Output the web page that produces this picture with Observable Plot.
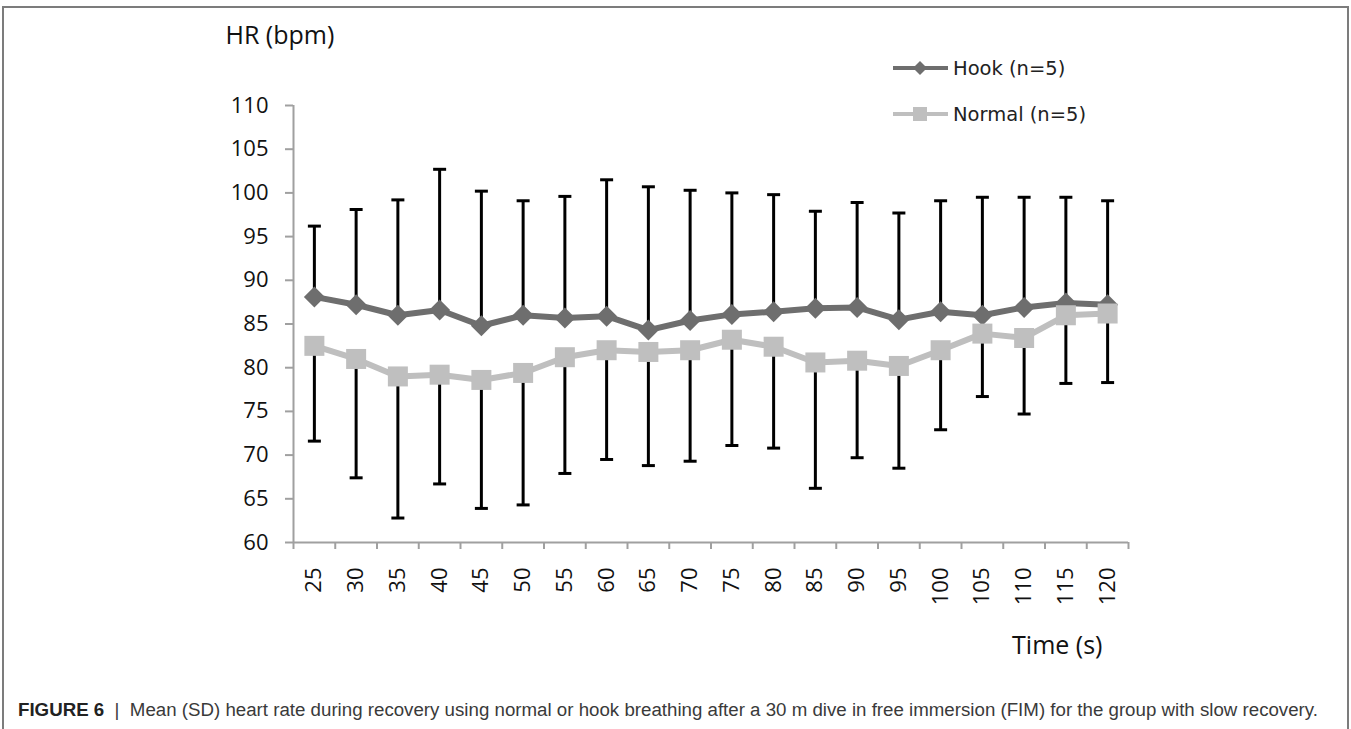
<!DOCTYPE html>
<html><head><meta charset="utf-8">
<script src="https://cdn.jsdelivr.net/npm/d3@7"></script>
<script src="https://cdn.jsdelivr.net/npm/@observablehq/plot@0.6"></script>
<style>
html,body{margin:0;padding:0;background:#fff;width:1351px;height:729px;overflow:hidden;}
#wrap{position:relative;width:1351px;height:729px;}
#border{position:absolute;left:2px;top:6px;width:1347px;height:800px;border:2px solid #7c7c7c;box-sizing:border-box;}
#chart{position:absolute;left:0;top:0;}
#legend{position:absolute;left:0;top:0;}
#caption{position:absolute;left:18px;top:700px;font-family:"Liberation Sans",Arial,sans-serif;font-size:18px;color:#3a3a3a;white-space:nowrap;transform-origin:0 0;}
#caption b{color:#222;}
</style></head><body>
<div id="wrap">
  <div id="border"></div>
  <div id="chart"></div>
  <svg id="legend" width="1351" height="160"></svg>
  <div id="caption"><b>FIGURE 6</b> &nbsp;|&nbsp; Mean (SD) heart rate during recovery using normal or hook breathing after a 30 m dive in free immersion (FIM) for the group with slow recovery.</div>
</div>
<script>
const times = [25,30,35,40,45,50,55,60,65,70,75,80,85,90,95,100,105,110,115,120];
const hookMean = [88.1,87.2,86.0,86.6,84.8,86.0,85.7,85.9,84.3,85.4,86.1,86.4,86.8,86.9,85.5,86.4,86.0,86.9,87.4,87.2];
const hookSD   = [8.1,10.9,13.2,16.1,15.4,13.1,13.9,15.6,16.4,14.9,13.9,13.4,11.1,12.0,12.2,12.7,13.5,12.6,12.1,11.9];
const normalMean = [82.5,81.0,79.0,79.2,78.6,79.4,81.2,82.0,81.8,82.0,83.2,82.4,80.6,80.8,80.2,82.0,83.9,83.4,86.0,86.2];
const normalSD   = [10.9,13.6,16.2,12.5,14.7,15.1,13.3,12.5,13.0,12.7,12.1,11.6,14.4,11.1,11.7,9.1,7.2,8.7,7.8,7.9];
const yTicks = [60,65,70,75,80,85,90,95,100,105,110];
const seriesNames = ["Hook (n=5)", "Normal (n=5)"];
const yTitle = "HR (bpm)";
const xTitle = "Time (s)";

const hookColor = "#6e6e6e", normalColor = "#bfbfbf", axisColor = "#a0a0a0", textColor = "#111";

const hook = times.map((t,i)=>({time:t, mean:hookMean[i], sd:hookSD[i]}));
const normal = times.map((t,i)=>({time:t, mean:normalMean[i], sd:normalSD[i]}));
const bounds = [...times.map(t=>t-2.5), times[times.length-1]+2.5];

function sym(fn){ return {draw(ctx,size){ const r=Math.sqrt(size/Math.PI); fn(ctx,r); }}; }
const diamond = sym((c,r)=>{c.moveTo(0,-r);c.lineTo(r,0);c.lineTo(0,r);c.lineTo(-r,0);c.closePath();});
const square = sym((c,r)=>{c.moveTo(-r,-r);c.lineTo(r,-r);c.lineTo(r,r);c.lineTo(-r,r);c.closePath();});
const hbar = sym((c,r)=>{c.moveTo(-r,0);c.lineTo(r,0);});

const chart = Plot.plot({
  width:1351, height:680,
  marginLeft:293, marginRight:223, marginTop:105, marginBottom:138,
  style:{fontFamily:"'Open Sans', sans-serif", background:"transparent", overflow:"visible"},
  x:{type:"linear", domain:[bounds[0], bounds[bounds.length-1]], label:null, axis:null},
  y:{domain:[60,110], label:null, axis:null},
  marks:[
    Plot.axisY({ticks:yTicks, tickSize:8, tickPadding:17, fontSize:22, stroke:axisColor, strokeWidth:2, fill:textColor, label:null}),
    Plot.axisX({ticks:bounds, tickSize:7, tickFormat:()=>"", stroke:axisColor, strokeWidth:2, label:null}),
    Plot.axisX({ticks:times, tickSize:0, tickPadding:25, tickRotate:-90, fontSize:22, fill:textColor, label:null}),
    Plot.ruleY([60], {stroke:axisColor, strokeWidth:2}),
    Plot.ruleX([bounds[0]], {stroke:axisColor, strokeWidth:2}),
    Plot.ruleX(hook, {x:"time", y1:"mean", y2:d=>d.mean+d.sd, stroke:"#000", strokeWidth:3}),
    Plot.dot(hook, {x:"time", y:d=>d.mean+d.sd, symbol:hbar, r:6.5, stroke:"#000", strokeWidth:3, fill:"none"}),
    Plot.ruleX(normal, {x:"time", y1:"mean", y2:d=>d.mean-d.sd, stroke:"#000", strokeWidth:3}),
    Plot.dot(normal, {x:"time", y:d=>d.mean-d.sd, symbol:hbar, r:6.5, stroke:"#000", strokeWidth:3, fill:"none"}),
    Plot.line(hook, {x:"time", y:"mean", stroke:hookColor, strokeWidth:6}),
    Plot.dot(hook, {x:"time", y:"mean", symbol:diamond, r:10.5, fill:hookColor, stroke:"none"}),
    Plot.line(normal, {x:"time", y:"mean", stroke:normalColor, strokeWidth:6}),
    Plot.dot(normal, {x:"time", y:"mean", symbol:square, r:10, fill:normalColor, stroke:"none"}),
    Plot.text([yTitle], {text:d=>d, frameAnchor:"top-left", textAnchor:"start", lineAnchor:"bottom", dx:-68, dy:-62, fontSize:25, fill:textColor}),
    Plot.text([xTitle], {text:d=>d, frameAnchor:"bottom-right", textAnchor:"end", lineAnchor:"bottom", dx:-26, dy:111, fontSize:25, fill:textColor})
  ]
});
document.getElementById("chart").appendChild(chart);

// legend
const leg = d3.select("#legend");
const legItems = [
  {name:seriesNames[0], color:hookColor, shape:diamond, y:68},
  {name:seriesNames[1], color:normalColor, shape:square, y:114}
];
legItems.forEach(it=>{
  const g = leg.append("g").attr("transform",`translate(0,${it.y})`);
  g.append("line").attr("x1",893).attr("x2",948).attr("y1",0).attr("y2",0).attr("stroke",it.color).attr("stroke-width",4);
  const p = d3.path(); it.shape.draw(p, Math.PI*7*7);
  g.append("path").attr("d",p.toString()).attr("transform","translate(920,0)").attr("fill",it.color);
  g.append("text").attr("x",953).attr("y",0).attr("dy","0.35em").attr("font-family","'DejaVu Sans', sans-serif").attr("font-size",19.5).attr("fill","#222").text(it.name);
});

// fit caption
const cap = document.getElementById("caption");
const w = cap.getBoundingClientRect().width;
cap.style.transform = `scaleX(${1300/w})`;
</script>
</body></html>
